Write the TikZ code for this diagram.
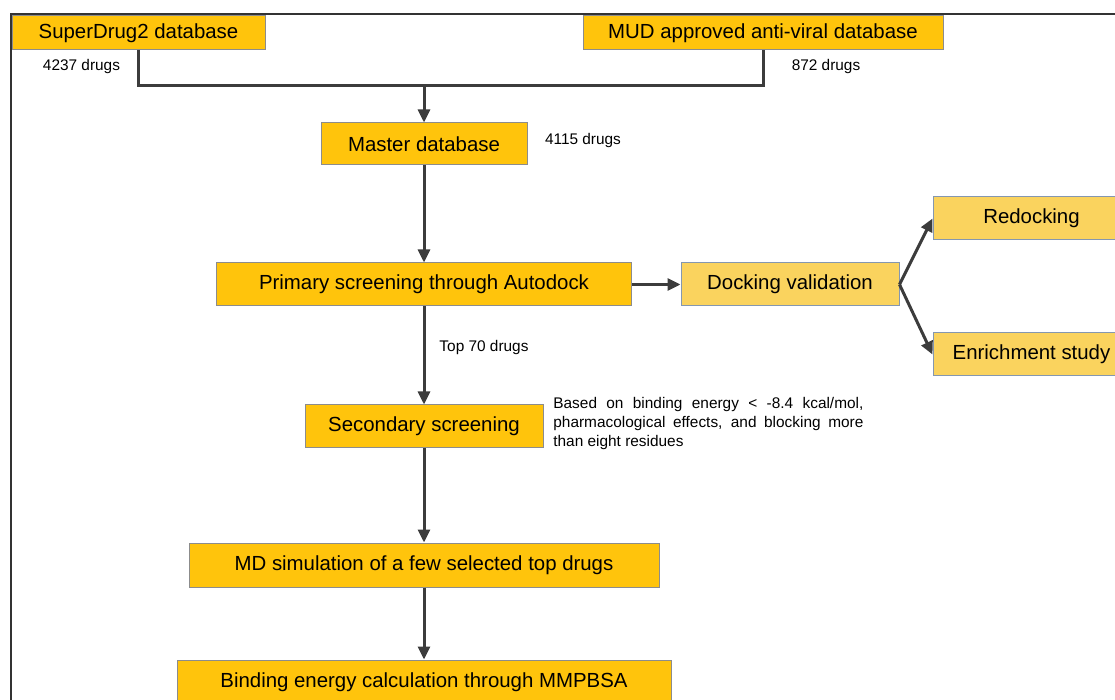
\documentclass[tikz,border=0pt]{standalone}
\usepackage{fontspec}
\setmainfont{Liberation Sans}
\usepackage{xcolor}
\usetikzlibrary{arrows.meta,positioning,calc}

\definecolor{gold}{HTML}{FFC40C}
\definecolor{lightgold}{HTML}{FAD35E}
\definecolor{goldline}{HTML}{8C8C8C}
\definecolor{blueline}{HTML}{8497B0}
\definecolor{arrowgray}{HTML}{3C3C3C}

\begin{document}
\begin{tikzpicture}[x=0.5pt,y=-0.5pt,>={Triangle[length=6.5pt,width=6pt]},
  box/.style={draw=goldline,fill=gold,line width=0.5pt,inner sep=0pt,font=\fontsize{10.2}{12}\selectfont},
  sidebox/.style={box,draw=blueline,fill=lightgold},
  note/.style={inner sep=0pt,font=\fontsize{7.7}{9.5}\selectfont},
  link/.style={draw=arrowgray,line width=1.5pt}]
  \useasboundingbox (0,0) rectangle (1115,700);
  \clip (0,0) rectangle (1115,700);
  \draw[line width=0.8pt,draw=black!80] (11,14) rectangle (1130,720);

  % sources
  \node[box,minimum width=126.5pt,minimum height=17pt] (super) at (138.5,33) {SuperDrug2 database};
  \node[box,minimum width=180pt,minimum height=17pt] (mud) at (763,33) {MUD approved anti-viral database};
  \node[note] (nsuper) at (81.5,67) {4237 drugs};
  \node[note] (nmud) at (826,67) {872 drugs};
  \coordinate (join) at (424,86);

  % main flow
  \node[box,minimum width=103pt,minimum height=21pt] (master) at (424,144) {Master database};
  \node[note] (nmaster) at (583,141) {4115 drugs};
  \node[box,minimum width=207.5pt,minimum height=21.5pt] (primary) at (424,284.5) {Primary screening through Autodock};
  \node[note] (ntop) at (484,348) {Top 70 drugs};
  \node[box,minimum width=119pt,minimum height=21.5pt] (secondary) at (424,426.5) {Secondary screening};
  \node[note,anchor=west,text width=155pt,align=justify] (criteria) at (553,424)
    {Based on binding energy < -8.4 kcal/mol, pharmacological effects, and blocking more than eight residues};
  \node[box,minimum width=235pt,minimum height=22pt] (md) at (424,565) {MD simulation of a few selected top drugs};
  \node[box,minimum width=247pt,minimum height=22pt] (mmpbsa) at (424,682) {Binding energy calculation through MMPBSA};

  % validation branch
  \node[sidebox,minimum width=109pt,minimum height=21.5pt] (docking) at (790,284.5) {Docking validation};
  \node[sidebox,minimum width=98.5pt,minimum height=21.5pt] (redock) at (1031.5,218.5) {Redocking};
  \node[sidebox,minimum width=98.5pt,minimum height=21.5pt] (enrich) at (1031.5,354.5) {Enrichment study};

  % connectors
  \draw[link,line join=miter] (super.south) |- (join) -| (mud.south);
  \draw[link,->] (join) -- (master.north);
  \draw[link,->] (master) -- (primary);
  \draw[link,->] (primary) -- (secondary);
  \draw[link,->] (secondary) -- (md);
  \draw[link,->] (md) -- (mmpbsa);
  \draw[link,->] (primary) -- (docking);
  \draw[link,->] (docking.east) -- (redock.west);
  \draw[link,->] (docking.east) -- (enrich.west);
\end{tikzpicture}
\end{document}
